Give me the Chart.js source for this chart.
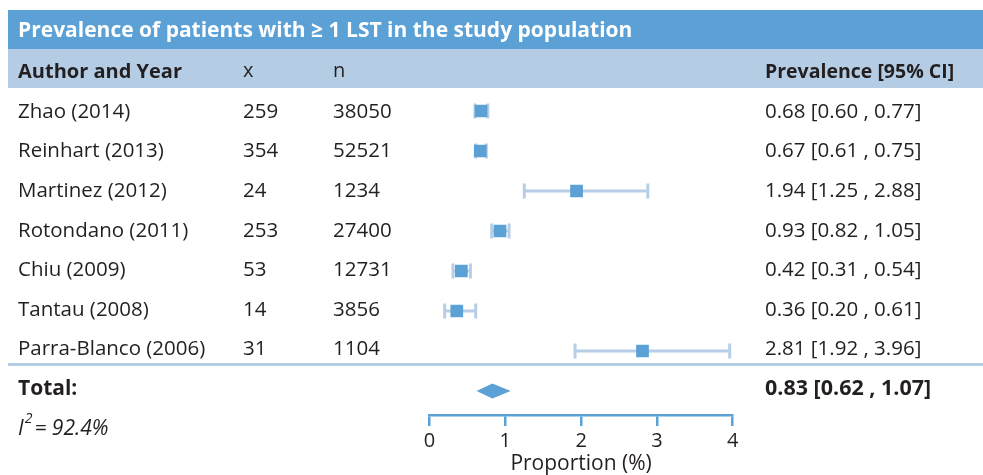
<!DOCTYPE html>
<html><head><meta charset="utf-8">
<script src="https://cdn.jsdelivr.net/npm/chart.js@4/dist/chart.umd.min.js"></script>
<style>html,body{margin:0;padding:0;background:#fff}#wrap{width:983px;height:475px;position:relative}</style>
</head><body><div id="wrap"><canvas id="c" width="983" height="475"></canvas></div>
<script>
const studies = ["Zhao (2014)", "Reinhart (2013)", "Martinez (2012)", "Rotondano (2011)", "Chiu (2009)", "Tantau (2008)", "Parra-Blanco (2006)"];
const events = [259, 354, 24, 253, 53, 14, 31];
const totals = [38050, 52521, 1234, 27400, 12731, 3856, 1104];
const prevalence = [0.68, 0.67, 1.94, 0.93, 0.42, 0.36, 2.81];
const ciLower = [0.60, 0.61, 1.25, 0.82, 0.31, 0.20, 1.92];
const ciUpper = [0.77, 0.75, 2.88, 1.05, 0.54, 0.61, 3.96];
const pooled = [0.83, 0.62, 1.07];
const heterogeneity = "92.4%";
const xTicks = [0, 1, 2, 3, 4];

const FONT = "'Open Sans', 'Noto Sans', sans-serif";
const DARK = '#5ba1d5';
const LIGHT = '#b4cde5';
const CI = '#b6cfe7';
const TEXT = '#231f20';

const fmt = (e, l, h) => `${e.toFixed(2)} [${l.toFixed(2)} , ${h.toFixed(2)}]`;

const forestPlugin = {
  id: 'forest',
  beforeDraw(chart) {
    const ctx = chart.ctx;
    ctx.save();
    ctx.fillStyle = DARK;
    ctx.fillRect(8, 10, 975, 39);
    ctx.fillStyle = LIGHT;
    ctx.fillRect(8, 49, 975, 39);
    ctx.strokeStyle = LIGHT;
    ctx.lineWidth = 3;
    ctx.beginPath(); ctx.moveTo(8, 364.5); ctx.lineTo(983, 364.5); ctx.stroke();

    ctx.textBaseline = 'middle';
    ctx.textAlign = 'left';
    ctx.fillStyle = '#ffffff';
    ctx.font = `bold 21px ${FONT}`;
    ctx.fillText('Prevalence of patients with \u2265 1 LST in the study population', 18, 31);

    ctx.fillStyle = TEXT;
    ctx.font = `bold 20px ${FONT}`;
    ctx.fillText('Author and Year', 18, 72);
    ctx.font = `bold 19.5px ${FONT}`;
    ctx.fillText('Prevalence [95% CI]', 765, 72);
    ctx.font = `20px ${FONT}`;
    ctx.fillText('x', 243, 71);
    ctx.fillText('n', 333, 71);

    studies.forEach((s, i) => {
      const y = 112 + 39.6 * i;
      ctx.font = `20.5px ${FONT}`;
      ctx.fillText(s, 18, y);
      ctx.fillText(String(events[i]), 243, y);
      ctx.fillText(String(totals[i]), 333, y);
      ctx.fillText(fmt(prevalence[i], ciLower[i], ciUpper[i]), 765, y);
    });

    ctx.font = `bold 21px ${FONT}`;
    ctx.fillText('Total:', 18, 389);
    ctx.font = `bold 21.5px ${FONT}`;
    ctx.fillText(fmt(pooled[0], pooled[1], pooled[2]), 765, 389);

    ctx.font = `italic 21px ${FONT}`;
    ctx.fillText('I', 18, 429);
    const wI = ctx.measureText('I').width;
    ctx.font = `italic 14px ${FONT}`;
    ctx.fillText('2', 18 + wI + 1, 419);
    const w2 = ctx.measureText('2').width;
    ctx.font = `italic 21px ${FONT}`;
    ctx.fillText('= ' + heterogeneity, 18 + wI + w2 + 3, 429);
    ctx.restore();
  },
  beforeDatasetsDraw(chart) {
    const ctx = chart.ctx;
    const xs = chart.scales.x, ys = chart.scales.y;
    ctx.save();
    ctx.strokeStyle = CI;
    ctx.lineWidth = 3;
    prevalence.forEach((p, i) => {
      const y = ys.getPixelForValue(i);
      const x1 = xs.getPixelForValue(ciLower[i]);
      const x2 = xs.getPixelForValue(ciUpper[i]);
      ctx.beginPath();
      ctx.moveTo(x1, y); ctx.lineTo(x2, y);
      ctx.moveTo(x1, y - 7.5); ctx.lineTo(x1, y + 7.5);
      ctx.moveTo(x2, y - 7.5); ctx.lineTo(x2, y + 7.5);
      ctx.stroke();
    });
    ctx.restore();
  },
  afterDatasetsDraw(chart) {
    const ctx = chart.ctx;
    const xs = chart.scales.x, ys = chart.scales.y;
    const y = ys.getPixelForValue(studies.length);
    const xc = xs.getPixelForValue(pooled[0]);
    const xl = xs.getPixelForValue(pooled[1]);
    const xh = xs.getPixelForValue(pooled[2]);
    ctx.save();
    ctx.fillStyle = DARK;
    ctx.beginPath();
    ctx.moveTo(xl, y); ctx.lineTo(xc, y - 7.5); ctx.lineTo(xh, y); ctx.lineTo(xc, y + 7.5);
    ctx.closePath(); ctx.fill();
    ctx.restore();
  }
};

new Chart(document.getElementById('c'), {
  type: 'scatter',
  data: {
    datasets: [{
      data: prevalence.map((v, i) => ({ x: v, y: i })),
      pointStyle: 'rect',
      pointRadius: 9,
      pointHoverRadius: 9,
      backgroundColor: DARK,
      borderWidth: 0
    }]
  },
  options: {
    responsive: false,
    animation: false,
    events: [],
    layout: { padding: { left: 429.5, right: 250.3, top: 91, bottom: 0 } },
    plugins: { legend: { display: false }, tooltip: { enabled: false } },
    scales: {
      x: {
        type: 'linear', min: 0, max: 4,
        afterBuildTicks: a => { a.ticks = xTicks.map(v => ({ value: v })); },
        afterFit: a => { a.height = 60; },
        grid: { drawOnChartArea: false, drawTicks: true, tickLength: 11, color: DARK, lineWidth: 2.5 },
        border: { display: true, color: DARK, width: 2.5 },
        ticks: { font: { family: FONT, size: 20 }, color: TEXT, padding: 3 },
        title: { display: true, text: 'Proportion (%)', font: { family: FONT, size: 21 }, color: TEXT, padding: { top: 0, bottom: -2 } }
      },
      y: { type: 'linear', reverse: true, min: -0.5, max: 7.6, display: false }
    }
  },
  plugins: [forestPlugin]
});
</script></body></html>
